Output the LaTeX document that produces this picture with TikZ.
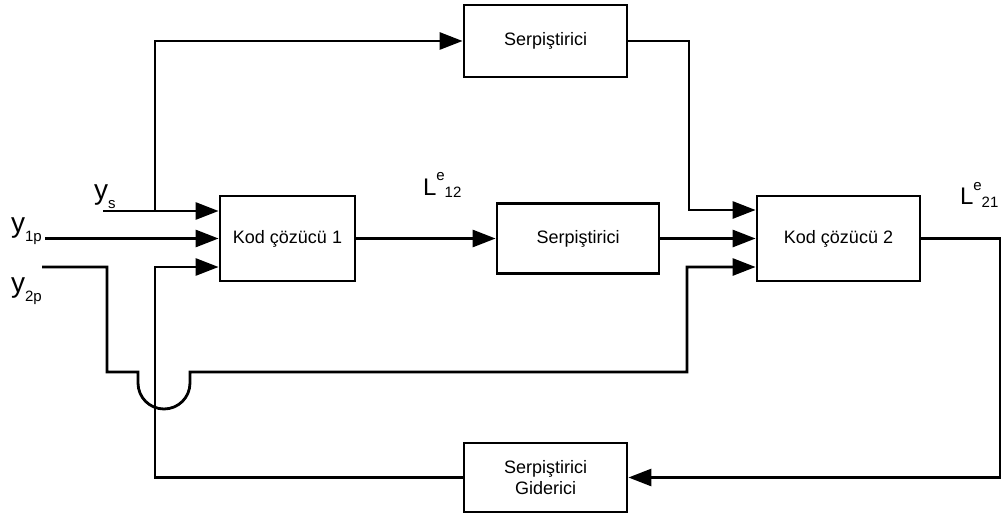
\documentclass[tikz,border=0pt]{standalone}
\usepackage{fontspec}
\setmainfont{Liberation Sans}
\usetikzlibrary{arrows.meta}
\newcommand{\sig}[2]{{\fontsize{14}{14}\selectfont #1\raisebox{-4.5pt}{\fontsize{7.5}{8}\selectfont #2}}}
\newcommand{\extr}[1]{{\fontsize{12}{12}\selectfont L\raisebox{7pt}{\fontsize{7.5}{8}\selectfont e}\raisebox{-1.5pt}{\fontsize{7.5}{8}\selectfont #1}}}
\begin{document}
\begin{tikzpicture}[x=0.5pt,y=-0.5pt,
  blk/.style={draw, line width=1.4pt, align=center, inner sep=0pt,
    font=\fontsize{9}{10.5}\selectfont},
  wire/.style={line width=1.4pt},
  arr/.style={wire, -{Triangle[length=11.5pt,width=8.5pt]}},
  lbl/.style={anchor=base west, inner sep=0pt, outer sep=0pt}]
\useasboundingbox (0,0) rectangle (1004,518);

% blocks
\node[blk, minimum width=67.5pt, minimum height=42.5pt] (k1) at (287.5,238.5) {Kod çözücü 1};
\node[blk, minimum width=81pt, minimum height=35pt] (s2) at (578,238.5) {Serpiştirici};
\node[blk, minimum width=81.5pt, minimum height=42.5pt] (k2) at (838.5,238.5) {Kod çözücü 2};
\node[blk, minimum width=81.5pt, minimum height=36pt] (s1) at (545.5,41) {Serpiştirici};
\node[blk, minimum width=81.5pt, minimum height=34.5pt] (sg) at (545.5,477.5) {Serpiştirici\\Giderici};

% labels
\node[lbl] (lys) at (94,199.5) {\sig{y}{s}};
\node[lbl] (ly1) at (11,232.5) {\sig{y}{1p}};
\node[lbl] (ly2) at (11,292.5) {\sig{y}{2p}};
\node[lbl] (l12) at (423,195) {\extr{12}};
\node[lbl] (l21) at (960,205) {\extr{21}};

% wire end points and corners
\coordinate (ysS) at (103,211);
\coordinate (j1) at (155,211);
\coordinate (y1S) at (45,238.5);
\coordinate (y2S) at (42,267);
\coordinate (y2a) at (107,267);
\coordinate (y2b) at (107,372);
\coordinate (y2c) at (138,372);
\coordinate (y2d) at (190,372);
\coordinate (y2e) at (687,372);
\coordinate (y2f) at (687,267);
\coordinate (t2) at (689,210);
\coordinate (fbR) at (1000,238.5);
\coordinate (fbL) at (155,267);

% inputs of decoder 1
\draw[arr] (ysS) -- (k1.west |- ysS);
\draw[arr] (j1) |- (s1.west);
\draw[arr] (y1S) -- (k1.west |- y1S);
\draw[arr] (sg.west) -| (fbL) -- (k1.west |- fbL);

% y2p to decoder 2, hopping over the feedback wire
\draw[arr] (y2S) -- (y2a) -- (y2b) -- (y2c) -- (138,383)
  .. controls (138,397.4) and (149.6,409) .. (164,409)
  .. controls (178.4,409) and (190,397.4) .. (190,383)
  -- (y2d) -- (y2e) -- (y2f) -- (k2.west |- y2f);

% main chain
\draw[arr] (k1.east) -- (s2.west);
\draw[arr] (s2.east) -- (k2.west);
\draw[arr] (s1.east) -| (t2) -- (k2.west |- t2);

% feedback
\draw[arr] (k2.east) -- (fbR) |- (sg.east);
\end{tikzpicture}
\end{document}
